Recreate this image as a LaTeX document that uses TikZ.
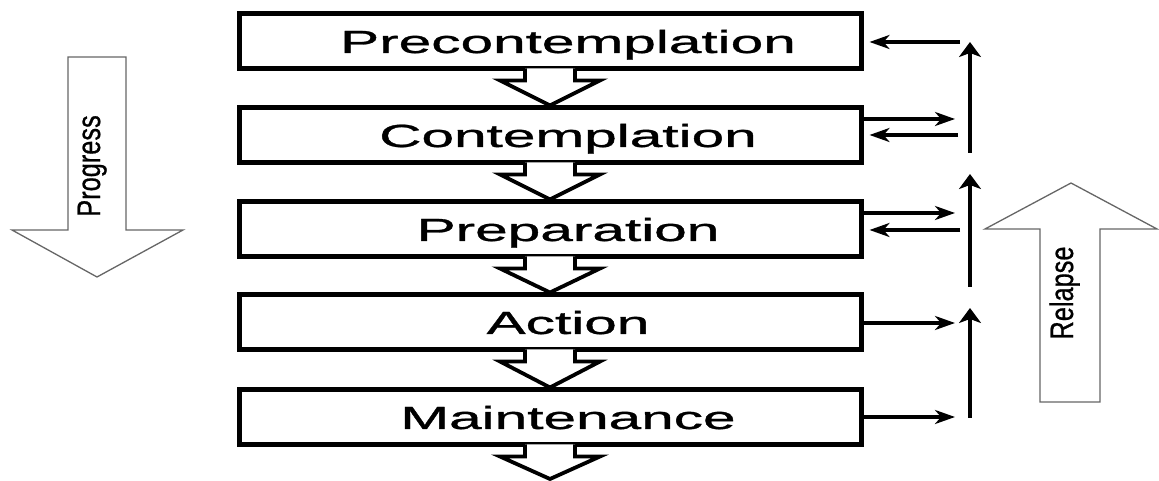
\documentclass[tikz,border=0pt]{standalone}
\usepackage{fontspec}
\setmainfont{Liberation Sans}
\newfontfamily\heavyfont[FakeBold=0.8]{Liberation Sans}
\usetikzlibrary{arrows.meta}

\newcommand{\widetext}[1]{\scalebox{1.83}[1]{\heavyfont\fontsize{32}{32}\selectfont #1}}
\newcommand{\sidetext}[1]{\scalebox{0.78}[1]{\heavyfont\fontsize{32.5}{33}\selectfont #1}}

\begin{document}
\begin{tikzpicture}[x=1pt,y=1pt,
    stage/.style={draw, line width=5pt, minimum width=622pt, minimum height=55pt, inner sep=0pt},
    stagelabel/.style={anchor=base, inner sep=0pt},
    chev/.style={draw, line width=3.8pt, fill=white, line join=miter},
    harrow/.style={line width=3.3pt, -{Stealth[length=20pt,width=14pt,inset=6pt]}},
    varrow/.style={line width=4.2pt, -{Stealth[length=15pt,width=22pt,inset=4pt]}},
    bigarrow/.style={draw=black!60, line width=1.3pt, fill=white, line join=miter},
    sidelabel/.style={anchor=base, rotate=90, inner sep=0pt}]

    \useasboundingbox (0,0) rectangle (1159,481);

    % big arrows
    \draw[bigarrow] (68,424) -- (126,424) -- (126,251) -- (183,251) -- (97,204) -- (12,251) -- (68,251) -- cycle;
    \node[sidelabel] (prog) at (100,315) {\sidetext{Progress}};
    \draw[bigarrow] (1040,79) -- (1100,79) -- (1100,252) -- (1157,252) -- (1071,298) -- (985,252) -- (1040,252) -- cycle;
    \node[sidelabel] (rel) at (1073,188) {\sidetext{Relapse}};

    % stages
    \node[stage] (pre) at (550,439.5) {};
    \node[stage] (con) at (550,345.5) {};
    \node[stage] (prep) at (550,251.5) {};
    \node[stage] (act) at (550,158.5) {};
    \node[stage] (main) at (550,63.5) {};

    \node[stagelabel] (pre-l) at ([xshift=18pt,yshift=-11.5pt]pre.center) {\widetext{Precontemplation}};
    \node[stagelabel] (con-l) at ([xshift=18pt,yshift=-11.5pt]con.center) {\widetext{Contemplation}};
    \node[stagelabel] (prep-l) at ([xshift=18pt,yshift=-11.5pt]prep.center) {\widetext{Preparation}};
    \node[stagelabel] (act-l) at ([xshift=18pt,yshift=-11.5pt]act.center) {\widetext{Action}};
    \node[stagelabel] (main-l) at ([xshift=18pt,yshift=-11.5pt]main.center) {\widetext{Maintenance}};

    % chevrons between stages
    \foreach \a/\b in {pre/con, con/prep, prep/act, act/main}
        \draw[chev] ([shift={(-25,3)}]\a.south) -- ++(0,-12) -- ++(-25,0) -- (\b.north)
            -- ([shift={(50,-9)}]\a.south) -- ++(-25,0) -- ++(0,12);
    \coordinate (out) at (550,2);
    \draw[chev] ([shift={(-25,3)}]main.south) -- ++(0,-12) -- ++(-25,0) -- (out)
        -- ([shift={(50,-9)}]main.south) -- ++(-25,0) -- ++(0,12);

    % side arrows
    \coordinate (l1) at (960,439);
    \coordinate (r2) at (955,362);
    \coordinate (l2) at (958,346);
    \coordinate (r3) at (955,268);
    \coordinate (l3) at (960,251);
    \coordinate (r4) at (955,158);
    \coordinate (r5) at (955,64);
    \draw[harrow, shorten >=6pt] (l1) -- (l1 -| pre.east);
    \draw[harrow] (r2 -| con.east) -- (r2);
    \draw[harrow, shorten >=6pt] (l2) -- (l2 -| con.east);
    \draw[harrow] (r3 -| prep.east) -- (r3);
    \draw[harrow, shorten >=6pt] (l3) -- (l3 -| prep.east);
    \draw[harrow] (r4 -| act.east) -- (r4);
    \draw[harrow] (r5 -| main.east) -- (r5);

    \coordinate (v1b) at (970,328);
    \coordinate (v1t) at (970,439);
    \coordinate (v2b) at (970,194);
    \coordinate (v2t) at (970,307);
    \coordinate (v3b) at (970,63);
    \coordinate (v3t) at (970,173);
    \draw[varrow] (v1b) -- (v1t);
    \draw[varrow] (v2b) -- (v2t);
    \draw[varrow] (v3b) -- (v3t);

\end{tikzpicture}
\end{document}
